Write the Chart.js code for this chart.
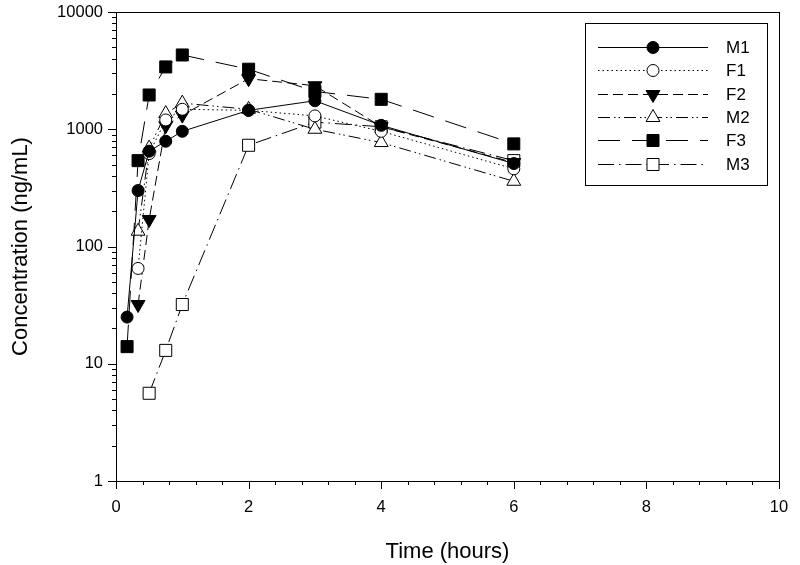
<!DOCTYPE html>
<html>
<head>
<meta charset="utf-8">
<script src="https://cdn.jsdelivr.net/npm/chart.js@4/dist/chart.umd.min.js"></script>
<style>
html,body{margin:0;padding:0;background:#fff;}
#wrap{width:800px;height:565px;position:relative;}
</style>
</head>
<body>
<div id="wrap"><canvas id="c" width="800" height="565"></canvas></div>
<script>
// ---- data ----
const times = [0.167, 0.333, 0.5, 0.75, 1, 2, 3, 4, 6];
const seriesNames = ["M1", "F1", "F2", "M2", "F3", "M3"];
const M1 = [25, 300, 650, 790, 960, 1450, 1750, 1080, 510];
const F1 = [null, 65, 620, 1200, 1480, 1450, 1300, 960, 460];
const F2 = [null, 32, 170, 1070, 1320, 2700, 2350, 1050, 520];
const M2 = [null, 135, 690, 1360, 1670, 1480, 1000, 770, 360];
const F3 = [14, 540, 1960, 3400, 4300, 3250, 2100, 1800, 750];
const M3 = [null, null, 5.6, 13, 32, 730, 1150, 1050, 540];
const xTickLabels = [0, 2, 4, 6, 8, 10];
const yTickLabels = [1, 10, 100, 1000, 10000];

const FONT = "'Liberation Sans', Arial, sans-serif";

const styles = {
  M1: {pointStyle: 'circle', radius: 6, fill: '#000', dash: [], rotation: 0},
  F1: {pointStyle: 'circle', radius: 6, fill: '#fff', dash: [1.5, 3], rotation: 0},
  F2: {pointStyle: 'triangle', radius: 8, fill: '#000', dash: [10, 5], rotation: 180},
  M2: {pointStyle: 'triangle', radius: 8, fill: '#fff', dash: [12, 4, 1.5, 3, 1.5, 4], rotation: 0},
  F3: {pointStyle: 'rect', radius: 8.5, fill: '#000', dash: [22, 12], rotation: 0},
  M3: {pointStyle: 'rect', radius: 8.5, fill: '#fff', dash: [16, 5, 1.5, 5], rotation: 0}
};
const values = {M1, F1, F2, M2, F3, M3};

function toPoints(arr) {
  const out = [];
  arr.forEach((v, i) => { if (v !== null) out.push({x: times[i], y: v}); });
  return out;
}

const datasets = seriesNames.map(name => {
  const s = styles[name];
  return {
    label: name,
    data: toPoints(values[name]),
    borderColor: '#000',
    borderWidth: 1,
    borderDash: s.dash,
    backgroundColor: s.fill,
    pointStyle: s.pointStyle,
    pointRadius: s.radius,
    pointHoverRadius: s.radius,
    pointRotation: s.rotation,
    pointBackgroundColor: s.fill,
    pointBorderColor: '#000',
    pointBorderWidth: 1,
    fill: false,
    tension: 0
  };
});

const framePlugin = {
  id: 'framePlugin',
  afterDraw(chart) {
    const ctx = chart.ctx;
    const a = chart.chartArea;
    const xs = chart.scales.x, ys = chart.scales.y;
    ctx.save();
    ctx.strokeStyle = '#000';
    ctx.lineWidth = 1;
    ctx.setLineDash([]);
    // frame
    ctx.strokeRect(Math.round(a.left) + 0.5, Math.round(a.top) + 0.5,
      Math.round(a.right - a.left), Math.round(a.bottom - a.top));
    // y ticks (outward, left)
    ctx.beginPath();
    for (let d = 1; d <= 10000; d *= 10) {
      for (let m = 1; m <= (d === 10000 ? 1 : 9); m++) {
        const v = m * d;
        const py = Math.round(ys.getPixelForValue(v)) + 0.5;
        const len = m === 1 ? 8 : 4;
        ctx.moveTo(a.left, py);
        ctx.lineTo(a.left - len, py);
      }
    }
    // x ticks (outward, down)
    for (let i = 0; i <= 25; i++) {
      const v = i * 0.4;
      const px = Math.round(xs.getPixelForValue(v)) + 0.5;
      const len = (i % 5 === 0) ? 8 : 4;
      ctx.moveTo(px, a.bottom);
      ctx.lineTo(px, a.bottom + len);
    }
    ctx.stroke();

    // legend
    const lx = 585, ly = 23, lw = 182, lh = 162;
    ctx.fillStyle = '#fff';
    ctx.fillRect(lx, ly, lw, lh);
    ctx.strokeRect(lx + 0.5, ly + 0.5, lw, lh);
    ctx.font = '17px ' + FONT;
    ctx.textBaseline = 'middle';
    ctx.textAlign = 'left';
    seriesNames.forEach((name, i) => {
      const s = styles[name];
      const y = Math.round(ly + 24 + i * 23.3) + 0.5;
      ctx.setLineDash(s.dash);
      ctx.beginPath();
      ctx.moveTo(598, y);
      ctx.lineTo(708, y);
      ctx.stroke();
      ctx.setLineDash([]);
      ctx.fillStyle = s.fill;
      Chart.helpers.drawPoint(ctx, {pointStyle: s.pointStyle, radius: s.radius, rotation: s.rotation, borderWidth: 1}, 653, y);
      ctx.fillStyle = '#000';
      ctx.fillText(name, 726, y + 1);
    });
    ctx.restore();
  }
};

new Chart(document.getElementById('c'), {
  type: 'line',
  data: {datasets},
  options: {
    responsive: false,
    animation: false,
    layout: {padding: {top: 12, right: 21, left: 0, bottom: 0}},
    plugins: {legend: {display: false}, tooltip: {enabled: false}},
    scales: {
      x: {
        type: 'linear',
        min: 0, max: 10,
        afterBuildTicks(scale) { scale.ticks = xTickLabels.map(v => ({value: v})); },
        afterFit(scale) { scale.height = 84; scale.paddingLeft = 0; scale.paddingRight = 0; },
        grid: {display: false, drawTicks: false},
        border: {display: false},
        ticks: {color: '#000', font: {family: FONT, size: 16.5}, padding: 17, maxRotation: 0, autoSkip: false},
        title: {display: true, text: 'Time (hours)', color: '#000', font: {family: FONT, size: 22}, padding: {top: 12, bottom: 0}}
      },
      y: {
        type: 'logarithmic',
        min: 1, max: 10000,
        afterBuildTicks(scale) { scale.ticks = yTickLabels.map(v => ({value: v})); },
        afterFit(scale) { scale.width = 116; scale.paddingTop = 0; scale.paddingBottom = 0; },
        grid: {display: false, drawTicks: false},
        border: {display: false},
        ticks: {color: '#000', font: {family: FONT, size: 16.5}, padding: 13, autoSkip: false,
          callback: v => String(v)},
        title: {display: true, text: 'Concentration (ng/mL)', color: '#000', font: {family: FONT, size: 22}, padding: {top: 8, bottom: 4}}
      }
    }
  },
  plugins: [framePlugin]
});
</script>
</body>
</html>
